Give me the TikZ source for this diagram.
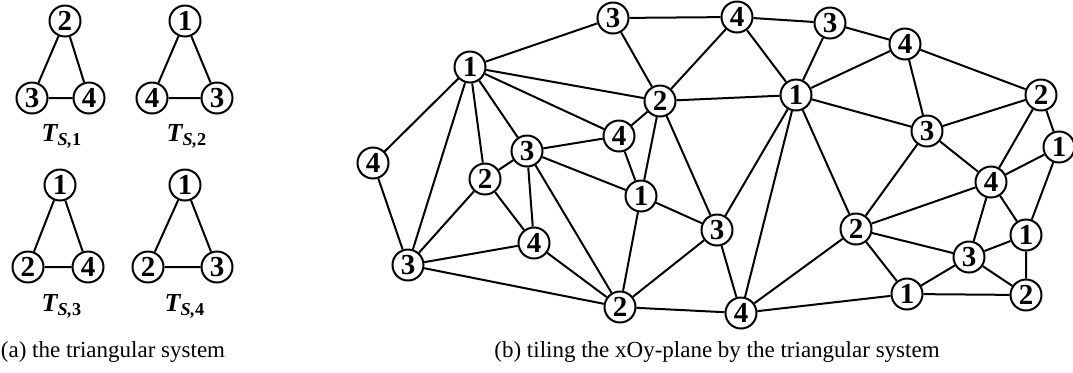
\documentclass[tikz,border=0pt]{standalone}
\usepackage{fontspec}
\setmainfont{Liberation Serif}
\begin{document}
\begin{tikzpicture}[x=0.5pt, y=-0.5pt,
    vtx/.style={circle, draw, line width=1pt, inner sep=0pt, minimum size=15.5pt,
        font=\fontsize{14.5}{15}\selectfont\bfseries},
    edge/.style={line width=1pt},
    lbl/.style={font=\fontsize{13}{14}\selectfont\bfseries\itshape},
    captxt/.style={font=\fontsize{11.5}{14}\selectfont}]
    \useasboundingbox (0,0) rectangle (1073,372);

    % (a) 三角系统
    \node[vtx] (s1t) at (65,21) {2};
    \node[vtx] (s1l) at (32,98) {3};
    \node[vtx] (s1r) at (89,98) {4};
    \draw[edge] (s1t) -- (s1l) (s1l) -- (s1r) (s1r) -- (s1t);
    \node[lbl] (s1n) at (62,136) {T\textsubscript{S,\upshape 1}};

    \node[vtx] (s2t) at (185,21) {1};
    \node[vtx] (s2l) at (152,98) {4};
    \node[vtx] (s2r) at (217,98) {3};
    \draw[edge] (s2t) -- (s2l) (s2l) -- (s2r) (s2r) -- (s2t);
    \node[lbl] (s2n) at (187,136) {T\textsubscript{S,\upshape 2}};

    \node[vtx] (s3t) at (60,185) {1};
    \node[vtx] (s3l) at (28,267) {2};
    \node[vtx] (s3r) at (88,267) {4};
    \draw[edge] (s3t) -- (s3l) (s3l) -- (s3r) (s3r) -- (s3t);
    \node[lbl] (s3n) at (62,306) {T\textsubscript{S,\upshape 3}};

    \node[vtx] (s4t) at (185,185) {1};
    \node[vtx] (s4l) at (148,267) {2};
    \node[vtx] (s4r) at (217,267) {3};
    \draw[edge] (s4t) -- (s4l) (s4l) -- (s4r) (s4r) -- (s4t);
    \node[lbl] (s4n) at (185,306) {T\textsubscript{S,\upshape 4}};

    \node[captxt] (capa) at (113,352) {(a) the triangular system};

    % (b) 平面铺砌
    \node[vtx] (pA) at (470,67) {1};
    \node[vtx] (pB) at (613,18) {3};
    \node[vtx] (pC) at (737,17) {4};
    \node[vtx] (pD) at (830,23) {3};
    \node[vtx] (pE) at (905,44) {4};
    \node[vtx] (pF) at (660,101) {2};
    \node[vtx] (pG) at (796,95) {1};
    \node[vtx] (pH) at (1041,95) {2};
    \node[vtx] (pI) at (927,131) {3};
    \node[vtx] (pJ) at (1059,147) {1};
    \node[vtx] (pK) at (991,182) {4};
    \node[vtx] (pL) at (619,136) {4};
    \node[vtx] (pM) at (527,151) {3};
    \node[vtx] (pN) at (373,163) {4};
    \node[vtx] (pO) at (485,179) {2};
    \node[vtx] (pP) at (641,196) {1};
    \node[vtx] (pQ) at (717,230) {3};
    \node[vtx] (pR) at (856,229) {2};
    \node[vtx] (pS) at (1026,235) {1};
    \node[vtx] (pT) at (969,257) {3};
    \node[vtx] (pU) at (534,243) {4};
    \node[vtx] (pV) at (408,265) {3};
    \node[vtx] (pW) at (620,307) {2};
    \node[vtx] (pX) at (741,313) {4};
    \node[vtx] (pY) at (907,294) {1};
    \node[vtx] (pZ) at (1026,295) {2};

    % 左半部分的边
    \draw[edge] (pA) -- (pB) (pA) -- (pF) (pA) -- (pL) (pA) -- (pM)
        (pA) -- (pO) (pA) -- (pV) (pA) -- (pN) (pN) -- (pV)
        (pB) -- (pC) (pB) -- (pF) (pF) -- (pC) (pF) -- (pG)
        (pF) -- (pL) (pF) -- (pP) (pF) -- (pQ)
        (pL) -- (pM) (pL) -- (pP) (pM) -- (pO) (pM) -- (pP)
        (pM) -- (pU) (pM) -- (pW) (pP) -- (pQ) (pP) -- (pW)
        (pO) -- (pV) (pO) -- (pU) (pV) -- (pU) (pV) -- (pW)
        (pU) -- (pW) (pW) -- (pQ) (pW) -- (pX);

    % 右半部分的边
    \draw[edge] (pC) -- (pD) (pC) -- (pG) (pD) -- (pG) (pD) -- (pE)
        (pG) -- (pE) (pE) -- (pH) (pE) -- (pI) (pG) -- (pI)
        (pI) -- (pH) (pH) -- (pJ) (pH) -- (pK) (pI) -- (pK)
        (pI) -- (pR) (pJ) -- (pK) (pJ) -- (pS) (pK) -- (pR)
        (pK) -- (pS) (pK) -- (pT) (pR) -- (pT) (pR) -- (pY)
        (pR) -- (pX) (pG) -- (pR) (pG) -- (pQ) (pG) -- (pX)
        (pQ) -- (pX) (pX) -- (pY) (pY) -- (pZ) (pY) -- (pT)
        (pT) -- (pS) (pT) -- (pZ) (pS) -- (pZ);

    \node[captxt] (capb) at (717,352) {(b) tiling the xOy-plane by the triangular system};
\end{tikzpicture}
\end{document}
